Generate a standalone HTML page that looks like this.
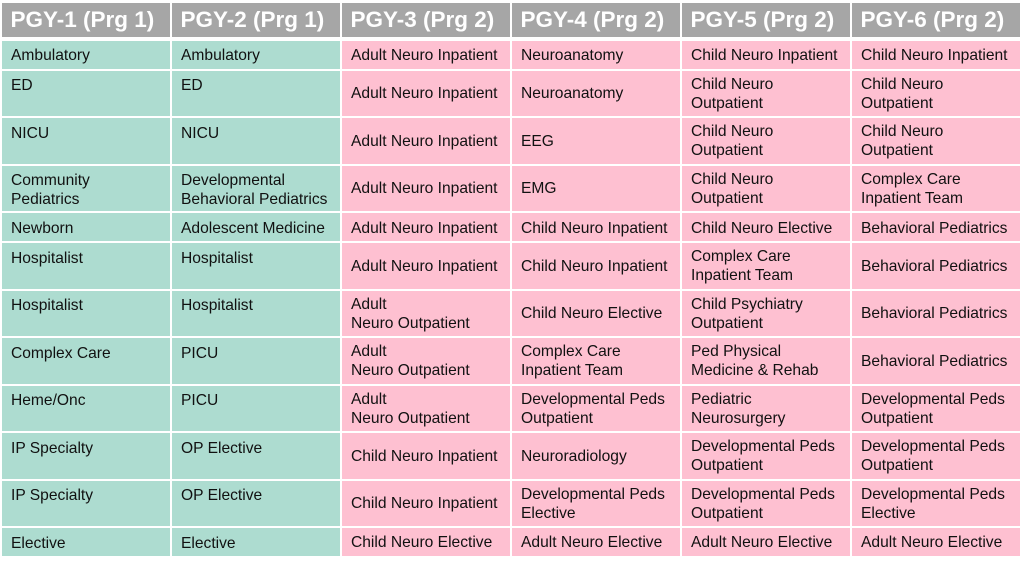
<!DOCTYPE html>
<html>
<head>
<meta charset="utf-8">
<style>
  html, body { margin:0; padding:0; background:#ffffff; }
  body { width:1024px; height:561px; position:relative; overflow:hidden;
         font-family:"Liberation Sans", Arial, sans-serif; }
  .c { position:absolute; box-sizing:border-box; padding-left:9px; white-space:nowrap;
       font-size:15.6px; line-height:19px; color:#111111; }
  .h { position:absolute; box-sizing:border-box; top:3px; height:34px; background:#a6a6a6;
       color:#ffffff; font-weight:bold; font-size:22.5px; line-height:34px; padding-left:8.5px; white-space:nowrap; }
  .t { background:#addcd0; padding-top:5.5px; }
  .p { background:#fec0d1; display:flex; align-items:center; }
  .p.s { padding-top:2px; }
  .p.d { padding-top:1px; }
</style>
</head>
<body>
<div class="h" style="left:2px;width:168px;">PGY-1 (Prg 1)</div>
<div class="h" style="left:172px;width:168px;">PGY-2 (Prg 1)</div>
<div class="h" style="left:342px;width:168px;">PGY-3 (Prg 2)</div>
<div class="h" style="left:512px;width:168px;">PGY-4 (Prg 2)</div>
<div class="h" style="left:682px;width:168px;">PGY-5 (Prg 2)</div>
<div class="h" style="left:852px;width:168px;">PGY-6 (Prg 2)</div>

<!-- Row 1 -->
<div class="c t" style="left:2px;width:168px;top:40.5px;height:28px;">Ambulatory</div>
<div class="c t" style="left:172px;width:168px;top:40.5px;height:28px;">Ambulatory</div>
<div class="c p s" style="left:342px;width:168px;top:40.5px;height:28px;"><div>Adult Neuro Inpatient</div></div>
<div class="c p s" style="left:512px;width:168px;top:40.5px;height:28px;"><div>Neuroanatomy</div></div>
<div class="c p s" style="left:682px;width:168px;top:40.5px;height:28px;"><div>Child Neuro Inpatient</div></div>
<div class="c p s" style="left:852px;width:168px;top:40.5px;height:28px;"><div>Child Neuro Inpatient</div></div>

<!-- Row 2 -->
<div class="c t" style="left:2px;width:168px;top:70.5px;height:45.5px;">ED</div>
<div class="c t" style="left:172px;width:168px;top:70.5px;height:45.5px;">ED</div>
<div class="c p d" style="left:342px;width:168px;top:70.5px;height:45.5px;"><div>Adult Neuro Inpatient</div></div>
<div class="c p d" style="left:512px;width:168px;top:70.5px;height:45.5px;"><div>Neuroanatomy</div></div>
<div class="c p d" style="left:682px;width:168px;top:70.5px;height:45.5px;"><div>Child Neuro<br>Outpatient</div></div>
<div class="c p d" style="left:852px;width:168px;top:70.5px;height:45.5px;"><div>Child Neuro<br>Outpatient</div></div>

<!-- Row 3 -->
<div class="c t" style="left:2px;width:168px;top:118px;height:45.5px;">NICU</div>
<div class="c t" style="left:172px;width:168px;top:118px;height:45.5px;">NICU</div>
<div class="c p d" style="left:342px;width:168px;top:118px;height:45.5px;"><div>Adult Neuro Inpatient</div></div>
<div class="c p d" style="left:512px;width:168px;top:118px;height:45.5px;"><div>EEG</div></div>
<div class="c p d" style="left:682px;width:168px;top:118px;height:45.5px;"><div>Child Neuro<br>Outpatient</div></div>
<div class="c p d" style="left:852px;width:168px;top:118px;height:45.5px;"><div>Child Neuro<br>Outpatient</div></div>

<!-- Row 4 -->
<div class="c t" style="left:2px;width:168px;top:165.5px;height:45.5px;">Community<br>Pediatrics</div>
<div class="c t" style="left:172px;width:168px;top:165.5px;height:45.5px;">Developmental<br>Behavioral Pediatrics</div>
<div class="c p d" style="left:342px;width:168px;top:165.5px;height:45.5px;"><div>Adult Neuro Inpatient</div></div>
<div class="c p d" style="left:512px;width:168px;top:165.5px;height:45.5px;"><div>EMG</div></div>
<div class="c p d" style="left:682px;width:168px;top:165.5px;height:45.5px;"><div>Child Neuro<br>Outpatient</div></div>
<div class="c p d" style="left:852px;width:168px;top:165.5px;height:45.5px;"><div>Complex Care<br>Inpatient Team</div></div>

<!-- Row 5 -->
<div class="c t" style="left:2px;width:168px;top:213px;height:28px;">Newborn</div>
<div class="c t" style="left:172px;width:168px;top:213px;height:28px;">Adolescent Medicine</div>
<div class="c p s" style="left:342px;width:168px;top:213px;height:28px;"><div>Adult Neuro Inpatient</div></div>
<div class="c p s" style="left:512px;width:168px;top:213px;height:28px;"><div>Child Neuro Inpatient</div></div>
<div class="c p s" style="left:682px;width:168px;top:213px;height:28px;"><div>Child Neuro Elective</div></div>
<div class="c p s" style="left:852px;width:168px;top:213px;height:28px;"><div>Behavioral Pediatrics</div></div>

<!-- Row 6 -->
<div class="c t" style="left:2px;width:168px;top:243px;height:45.5px;">Hospitalist</div>
<div class="c t" style="left:172px;width:168px;top:243px;height:45.5px;">Hospitalist</div>
<div class="c p d" style="left:342px;width:168px;top:243px;height:45.5px;"><div>Adult Neuro Inpatient</div></div>
<div class="c p d" style="left:512px;width:168px;top:243px;height:45.5px;"><div>Child Neuro Inpatient</div></div>
<div class="c p d" style="left:682px;width:168px;top:243px;height:45.5px;"><div>Complex Care<br>Inpatient Team</div></div>
<div class="c p d" style="left:852px;width:168px;top:243px;height:45.5px;"><div>Behavioral Pediatrics</div></div>

<!-- Row 7 -->
<div class="c t" style="left:2px;width:168px;top:290.5px;height:45.5px;">Hospitalist</div>
<div class="c t" style="left:172px;width:168px;top:290.5px;height:45.5px;">Hospitalist</div>
<div class="c p d" style="left:342px;width:168px;top:290.5px;height:45.5px;"><div>Adult<br>Neuro Outpatient</div></div>
<div class="c p d" style="left:512px;width:168px;top:290.5px;height:45.5px;"><div>Child Neuro Elective</div></div>
<div class="c p d" style="left:682px;width:168px;top:290.5px;height:45.5px;"><div>Child Psychiatry<br>Outpatient</div></div>
<div class="c p d" style="left:852px;width:168px;top:290.5px;height:45.5px;"><div>Behavioral Pediatrics</div></div>

<!-- Row 8 -->
<div class="c t" style="left:2px;width:168px;top:338px;height:45.5px;">Complex Care</div>
<div class="c t" style="left:172px;width:168px;top:338px;height:45.5px;">PICU</div>
<div class="c p d" style="left:342px;width:168px;top:338px;height:45.5px;"><div>Adult<br>Neuro Outpatient</div></div>
<div class="c p d" style="left:512px;width:168px;top:338px;height:45.5px;"><div>Complex Care<br>Inpatient Team</div></div>
<div class="c p d" style="left:682px;width:168px;top:338px;height:45.5px;"><div>Ped Physical<br>Medicine &amp; Rehab</div></div>
<div class="c p d" style="left:852px;width:168px;top:338px;height:45.5px;"><div>Behavioral Pediatrics</div></div>

<!-- Row 9 -->
<div class="c t" style="left:2px;width:168px;top:385.5px;height:45.5px;">Heme/Onc</div>
<div class="c t" style="left:172px;width:168px;top:385.5px;height:45.5px;">PICU</div>
<div class="c p d" style="left:342px;width:168px;top:385.5px;height:45.5px;"><div>Adult<br>Neuro Outpatient</div></div>
<div class="c p d" style="left:512px;width:168px;top:385.5px;height:45.5px;"><div>Developmental Peds<br>Outpatient</div></div>
<div class="c p d" style="left:682px;width:168px;top:385.5px;height:45.5px;"><div>Pediatric<br>Neurosurgery</div></div>
<div class="c p d" style="left:852px;width:168px;top:385.5px;height:45.5px;"><div>Developmental Peds<br>Outpatient</div></div>

<!-- Row 10 -->
<div class="c t" style="left:2px;width:168px;top:433px;height:45.5px;">IP Specialty</div>
<div class="c t" style="left:172px;width:168px;top:433px;height:45.5px;">OP Elective</div>
<div class="c p d" style="left:342px;width:168px;top:433px;height:45.5px;"><div>Child Neuro Inpatient</div></div>
<div class="c p d" style="left:512px;width:168px;top:433px;height:45.5px;"><div>Neuroradiology</div></div>
<div class="c p d" style="left:682px;width:168px;top:433px;height:45.5px;"><div>Developmental Peds<br>Outpatient</div></div>
<div class="c p d" style="left:852px;width:168px;top:433px;height:45.5px;"><div>Developmental Peds<br>Outpatient</div></div>

<!-- Row 11 -->
<div class="c t" style="left:2px;width:168px;top:480.5px;height:45.5px;">IP Specialty</div>
<div class="c t" style="left:172px;width:168px;top:480.5px;height:45.5px;">OP Elective</div>
<div class="c p d" style="left:342px;width:168px;top:480.5px;height:45.5px;"><div>Child Neuro Inpatient</div></div>
<div class="c p d" style="left:512px;width:168px;top:480.5px;height:45.5px;"><div>Developmental Peds<br>Elective</div></div>
<div class="c p d" style="left:682px;width:168px;top:480.5px;height:45.5px;"><div>Developmental Peds<br>Outpatient</div></div>
<div class="c p d" style="left:852px;width:168px;top:480.5px;height:45.5px;"><div>Developmental Peds<br>Elective</div></div>

<!-- Row 12 -->
<div class="c t" style="left:2px;width:168px;top:528px;height:27.5px;">Elective</div>
<div class="c t" style="left:172px;width:168px;top:528px;height:27.5px;">Elective</div>
<div class="c p s" style="left:342px;width:168px;top:528px;height:27.5px;"><div>Child Neuro Elective</div></div>
<div class="c p s" style="left:512px;width:168px;top:528px;height:27.5px;"><div>Adult Neuro Elective</div></div>
<div class="c p s" style="left:682px;width:168px;top:528px;height:27.5px;"><div>Adult Neuro Elective</div></div>
<div class="c p s" style="left:852px;width:168px;top:528px;height:27.5px;"><div>Adult Neuro Elective</div></div>
</body>
</html>
